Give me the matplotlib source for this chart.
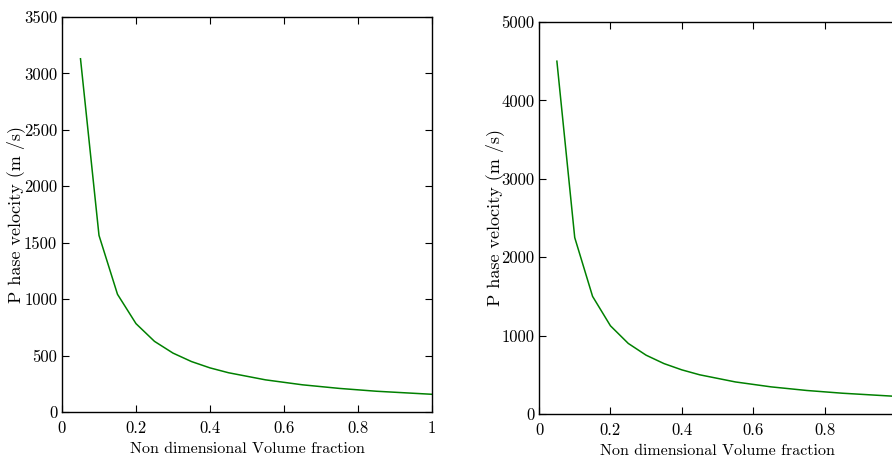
import matplotlib
matplotlib.use("Agg")
import matplotlib.pyplot as plt

# volume fraction samples
frac = [0.05, 0.1, 0.15, 0.2, 0.25, 0.3, 0.35, 0.4, 0.45, 0.55, 0.65, 0.75, 0.85, 1.0]

# phase velocity (m/s), left and right panels
vel_left = [3130, 1565, 1043, 783, 626, 522, 447, 391, 348, 285, 241, 209, 184, 157]
vel_right = [4500, 2250, 1500, 1125, 900, 750, 643, 563, 500, 409, 346, 300, 265, 225]

xticks = [0, 0.2, 0.4, 0.6, 0.8, 1]
xticklabels_left = ["0", "0.2", "0.4", "0.6", "0.8", "1"]
xticklabels_right = ["0", "0.2", "0.4", "0.6", "0.8", ""]  # "1" falls off the figure
yticks_left = [0, 500, 1000, 1500, 2000, 2500, 3000, 3500]
yticks_right = [0, 1000, 2000, 3000, 4000, 5000]

plt.rcParams["font.family"] = ["cmr10", "DejaVu Serif"]
plt.rcParams["axes.formatter.use_mathtext"] = True
plt.rcParams["mathtext.fontset"] = "cm"

fig = plt.figure(figsize=(8.92, 4.62), dpi=100)
ax1 = fig.add_axes([0.0695, 0.1082, 0.4148, 0.855])
ax2 = fig.add_axes([0.6043, 0.1039, 0.4002, 0.8485])


def style(ax, yticks, ymax, xlabels, ypad):
    ax.set_xlim(0, 1)
    ax.set_ylim(0, ymax)
    ax.set_xticks(xticks)
    ax.set_xticklabels(xlabels)
    ax.set_yticks(yticks)
    ax.set_yticklabels([str(v) for v in yticks])
    ax.tick_params(direction="in", top=True, right=True, labelsize=12,
                   length=5, width=0.8)
    ax.tick_params(axis="x", pad=6)
    for s in ax.spines.values():
        s.set_linewidth(1.0)
    ax.set_xlabel("Non dimensional Volume fraction", fontsize=11.5, labelpad=5)
    ax.set_ylabel("P hase velocity (m /s)", fontsize=13, labelpad=ypad)


ax1.plot(frac, vel_left, color=(0, 0.5, 0), linewidth=1.1)
style(ax1, yticks_left, 3500, xticklabels_left, -1)

ax2.plot(frac, vel_right, color=(0, 0.5, 0), linewidth=1.1)
style(ax2, yticks_right, 5000, xticklabels_right, -2)
ax2.tick_params(right=False)

fig.savefig("out.png", dpi=100)
